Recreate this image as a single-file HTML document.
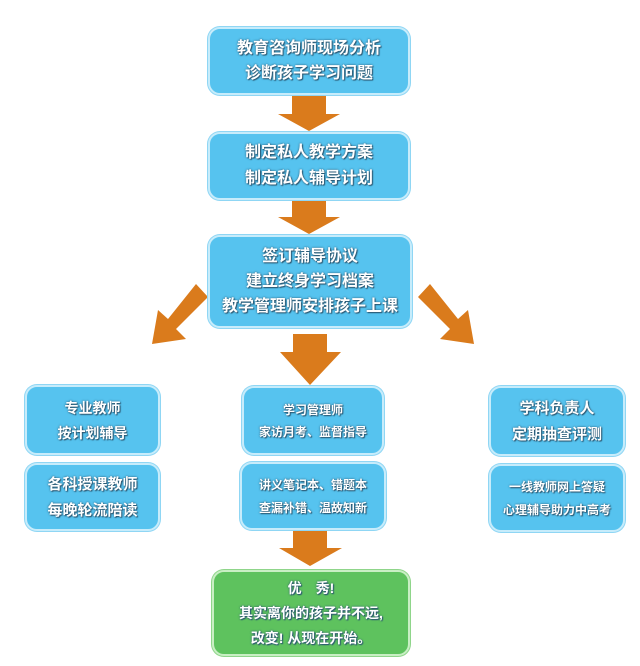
<!DOCTYPE html>
<html><head><meta charset="utf-8"><style>
html,body{margin:0;padding:0;background:#fff}
body{width:640px;height:666px;position:relative;overflow:hidden;font-family:"Liberation Sans","Noto Sans CJK SC",sans-serif}
.b{position:absolute;box-sizing:border-box;background:#56c3ef;border:2px solid #c7ecfb;border-radius:12px;box-shadow:0 0 0 1px #8fd6f4;color:#fff;text-align:center;font-weight:bold;display:flex;flex-direction:column;justify-content:center;text-shadow:1px 1px 1px #2a5670,0 0 2px #2a5670}
.g{background:#5ec25e;border-color:#c9efc4;box-shadow:0 0 0 1px #8fd58a}
.b div{line-height:1}
</style></head><body>
<svg width="640" height="666" style="position:absolute;left:0;top:0">
<g fill="#da7b1c">
<polygon points="292,95 326,95 326,114 340,114 309,131 278,114 292,114"/>
<polygon points="292,200 326,200 326,217 340,217 309,234 278,217 292,217"/>
<polygon points="293,334 327,334 327,352 341,352 310,385 280,352 293,352"/>
<polygon points="293,530 327,530 327,548 342,548 310,566 279,548 293,548"/>
<polygon points="196,284 208,297 176,329 186,339 152,344 158,310 168,319"/>
<polygon points="430,284 418,297 450,329 440,339 474,344 468,310 458,319"/>
</g>
</svg>
<div class="b" style="left:208px;top:27px;width:202px;height:68px;font-size:16px;gap:9px"><div>教育咨询师现场分析</div><div>诊断孩子学习问题</div></div>
<div class="b" style="left:208px;top:132px;width:202px;height:68px;font-size:16px;gap:10px"><div>制定私人教学方案</div><div>制定私人辅导计划</div></div>
<div class="b" style="left:208px;top:235px;width:204px;height:93px;font-size:16px;gap:9px"><div>签订辅导协议</div><div>建立终身学习档案</div><div>教学管理师安排孩子上课</div></div>
<div class="b" style="left:25px;top:385px;width:135px;height:70px;font-size:14px;gap:11px"><div>专业教师</div><div>按计划辅导</div></div>
<div class="b" style="left:25px;top:463px;width:135px;height:68px;font-size:15px;gap:11px"><div>各科授课教师</div><div>每晚轮流陪读</div></div>
<div class="b" style="left:242px;top:386px;width:142px;height:69px;font-size:12px;gap:10px"><div>学习管理师</div><div>家访月考、监督指导</div></div>
<div class="b" style="left:240px;top:462px;width:146px;height:68px;font-size:12px;gap:11px"><div>讲义笔记本、错题本</div><div>查漏补错、温故知新</div></div>
<div class="b" style="left:489px;top:386px;width:136px;height:70px;font-size:15px;gap:11px"><div>学科负责人</div><div>定期抽查评测</div></div>
<div class="b" style="left:489px;top:464px;width:136px;height:68px;font-size:12px;gap:11px"><div>一线教师网上答疑</div><div>心理辅导助力中高考</div></div>
<div class="b g" style="left:212px;top:570px;width:198px;height:86px;font-size:14px;gap:11px"><div>优　秀!</div><div>其实离你的孩子并不远,</div><div>改变! 从现在开始。</div></div>
</body></html>
